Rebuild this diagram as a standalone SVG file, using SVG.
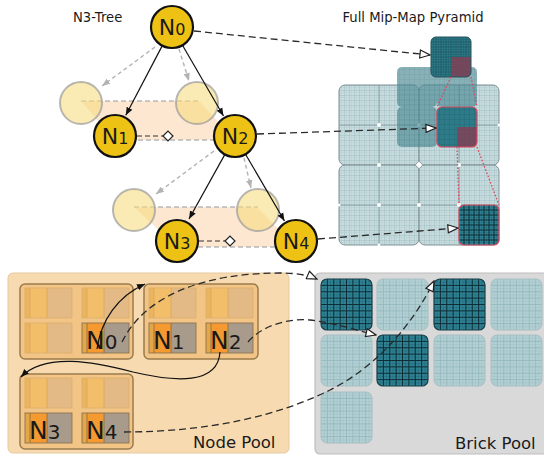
<svg xmlns="http://www.w3.org/2000/svg" width="544" height="457" viewBox="0 0 544 457">
<style>
text{font-family:"DejaVu Sans","Liberation Sans",sans-serif;fill:#1a1a1a}
.lbl{font-size:13.2px}
.pool{font-size:16.5px}
.node circle{fill:#eec214;stroke:#111;stroke-width:2.2}
.ghost circle{fill:#f6dc80;fill-opacity:.6;stroke:#9a9a9a;stroke-opacity:.7;stroke-width:2}
.band{fill:#fbd7b3;fill-opacity:.6;stroke:none}
.gedge{fill:none;stroke:#b8b8b8;stroke-width:1.3;stroke-dasharray:5 3}
.sib{fill:none;stroke:#333;stroke-width:1.2;stroke-dasharray:5 3}
.tarrow{fill:none;stroke:#111;stroke-width:1.2}
.garrow{fill:none;stroke:#b3b3b3;stroke-width:1.4;stroke-dasharray:4 3}
.link{fill:none;stroke:#2a2a2a;stroke-width:1.3;stroke-dasharray:7 4}
.red{fill:none;stroke:#e0455c;stroke-width:1.3;stroke-dasharray:1.6 1.8}
.diam{fill:#fff;stroke:#222;stroke-width:1.2}
.tile{fill:#f2c586;stroke:#9b7b4c;stroke-width:1.5}
.q{fill:url(#pl);stroke:#7f9093;stroke-width:1}
.bdark{fill:#2f8395}
.blight{fill:#b3d0d4}
</style>
<defs>
<path id="g8" vector-effect="non-scaling-stroke" d="M.125 0V1M.25 0V1M.375 0V1M.5 0V1M.625 0V1M.75 0V1M.875 0V1M0 .125H1M0 .25H1M0 .375H1M0 .5H1M0 .625H1M0 .75H1M0 .875H1"/>
<path id="g16" vector-effect="non-scaling-stroke" d="M.0625 0V1M.1875 0V1M.3125 0V1M.4375 0V1M.5625 0V1M.6875 0V1M.8125 0V1M.9375 0V1M0 .0625H1M0 .1875H1M0 .3125H1M0 .4375H1M0 .5625H1M0 .6875H1M0 .8125H1M0 .9375H1"/>
<clipPath id="uc"><rect width="1" height="1" rx=".12"/></clipPath>
<pattern id="pl" patternUnits="userSpaceOnUse" x="339" y="85" width="5" height="5"><rect width="5" height="5" fill="#c9dde0"/><path d="M0 0H5M0 0V5" stroke="#9dbbc0" stroke-width="1"/><path d="M0 2.5H5M2.5 0V5" stroke="#b5cfd3" stroke-width=".5"/></pattern>
<marker id="ab" viewBox="0 0 10 10" refX="10" refY="5" markerWidth="8" markerHeight="8" markerUnits="userSpaceOnUse" orient="auto"><path d="M0,1 L10,5 L0,9 z" fill="#111"/></marker>
<marker id="ag" viewBox="0 0 10 10" refX="10" refY="5" markerWidth="8" markerHeight="8" markerUnits="userSpaceOnUse" orient="auto"><path d="M0,1 L10,5 L0,9 z" fill="#b3b3b3"/></marker>
<marker id="ao" viewBox="0 0 12 10" refX="11" refY="5" markerWidth="12" markerHeight="10" markerUnits="userSpaceOnUse" orient="auto"><path d="M1,1 L11,5 L1,9 z" fill="#fff" stroke="#222" stroke-width="1.2"/></marker>
<g id="cellF">
<rect width="47" height="30" fill="#a99b8c"/>
<rect width="5" height="30" fill="#e2a748"/>
<rect x="5" width="17" height="30" fill="#f59a30"/>
<path d="M5 0V30M22 0V30" stroke="#8d6a3a" stroke-width=".8"/>
<rect width="47" height="30" fill="none" stroke="#8d7350" stroke-width=".9"/>
</g>
<g id="cellE">
<rect width="47" height="30" fill="#e3ba86"/>
<rect width="5" height="30" fill="#ebb55f"/>
<rect x="5" width="17" height="30" fill="#f3be6a"/>
<path d="M5 0V30M22 0V30" stroke="#d7a660" stroke-width=".8"/>
<rect width="47" height="30" fill="none" stroke="#dcae6c" stroke-width=".8"/>
</g>
<g id="brickD">
<rect width="51" height="51" rx="6" class="bdark"/>
<use href="#g16" transform="scale(51)" clip-path="url(#uc)" stroke="#236876" stroke-width=".5"/>
<use href="#g8" transform="scale(51)" clip-path="url(#uc)" stroke="#0e2d35" stroke-width="1"/>
<rect width="51" height="51" rx="6" fill="none" stroke="#1b3d46" stroke-width="1.2"/>
</g>
<g id="brickL">
<rect width="51" height="51" rx="6" class="blight"/>
<use href="#g16" transform="scale(51)" clip-path="url(#uc)" stroke="#a0c2c7" stroke-width=".5"/>
<use href="#g8" transform="scale(51)" clip-path="url(#uc)" stroke="#8db3b9" stroke-width=".7"/>
<rect width="51" height="51" rx="6" fill="none" stroke="#a7bec1" stroke-width="1"/>
</g>
</defs>

<rect width="544" height="457" fill="#fff"/>

<text class="lbl" x="73" y="22">N3-Tree</text>
<text class="lbl" x="413" y="22" text-anchor="middle">Full Mip-Map Pyramid</text>

<g id="band1">
<path class="band" d="M81,101 L199,101 L235,140 L115,140 Z"/>
<path class="gedge" d="M81,101 H200 M138,140 H214"/>
</g>
<g id="band2">
<path class="band" d="M134,207 L257,207 L296,247 L177,247 Z"/>
<path class="gedge" d="M134,207 H258 M198,247 H277"/>
</g>

<g id="ghost-1a" class="ghost"><circle cx="81" cy="103" r="21"/></g>
<g id="ghost-1b" class="ghost"><circle cx="197" cy="103" r="21"/></g>
<g id="ghost-2a" class="ghost"><circle cx="134" cy="210" r="21"/></g>
<g id="ghost-2b" class="ghost"><circle cx="258" cy="210" r="21"/></g>

<g id="pyramid-level2">
<rect class="q" x="339" y="85" width="80" height="80" rx="6"/>
<rect class="q" x="419" y="85" width="80" height="80" rx="6"/>
<rect class="q" x="339" y="165" width="80" height="80" rx="6"/>
<rect class="q" x="419" y="165" width="80" height="80" rx="6"/>
<path d="M379,85V245M459,85V245M339,125H499M339,205H499" stroke="#8aa0a3" stroke-width="1" fill="none"/>
<g fill="#fff">
<circle cx="379" cy="125" r="2"/><circle cx="419" cy="125" r="2"/><circle cx="459" cy="125" r="2"/>
<circle cx="379" cy="165" r="2"/><circle cx="419" cy="165" r="2.4"/><circle cx="459" cy="165" r="2"/>
<circle cx="379" cy="205" r="2"/><circle cx="419" cy="205" r="2"/><circle cx="459" cy="205" r="2"/>
<circle cx="339" cy="205" r="1.5"/><circle cx="379" cy="245" r="1.5"/><circle cx="499" cy="125" r="1.5"/>
</g>
</g>
<g id="pyramid-level1">
<g opacity=".7">
<g transform="translate(397,67)"><rect width="40" height="40" rx="5" fill="#558f99"/><use href="#g16" transform="scale(40)" clip-path="url(#uc)" stroke="#437c86" stroke-width=".5"/></g>
<g transform="translate(437,67)"><rect width="40" height="40" rx="5" fill="#558f99"/><use href="#g16" transform="scale(40)" clip-path="url(#uc)" stroke="#437c86" stroke-width=".5"/></g>
<g transform="translate(397,107)"><rect width="40" height="40" rx="5" fill="#558f99"/><use href="#g16" transform="scale(40)" clip-path="url(#uc)" stroke="#437c86" stroke-width=".5"/></g>
</g>
<g transform="translate(437,107)">
<rect width="40" height="40" rx="5" fill="#2d7a88"/>
<use href="#g16" transform="scale(40)" clip-path="url(#uc)" stroke="#266a77" stroke-width=".5"/>
<path d="M20,20 H40 V35 Q40,40 35,40 H20 Z" fill="#8c3b52" fill-opacity=".75"/>
<rect width="40" height="40" rx="5" fill="none" stroke="#d9475b" stroke-width="1.2"/>
</g>
</g>
<g id="pyramid-level0" transform="translate(431,37)">
<rect width="40" height="40" rx="5" fill="#2c7886"/>
<use href="#g16" transform="scale(40)" clip-path="url(#uc)" stroke="#22606c" stroke-width=".5"/>
<use href="#g8" transform="scale(40)" clip-path="url(#uc)" stroke="#1f5662" stroke-width=".7"/>
<path d="M20,20 H40 V35 Q40,40 35,40 H20 Z" fill="#8c3b52" fill-opacity=".75"/>
<rect width="40" height="40" rx="5" fill="none" stroke="#24525c" stroke-width="1"/>
</g>
<g id="pyramid-level2-sel" transform="translate(459,205)">
<rect width="40" height="40" rx="5" fill="#2f8394"/>
<use href="#g16" transform="scale(40)" clip-path="url(#uc)" stroke="#246b79" stroke-width=".5"/>
<use href="#g8" transform="scale(40)" clip-path="url(#uc)" stroke="#0e2d35" stroke-width="1"/>
<rect width="40" height="40" rx="5" fill="none" stroke="#d9475b" stroke-width="1.2"/>
</g>
<g id="refine-lines">
<path class="red" d="M451,77 L437,107 M471,77 L477,107 M457,147 L459,205 M477,147 L499,205"/>
</g>

<g id="node-pool">
<rect x="8" y="273" width="281" height="180" rx="5" fill="#f7dab0" stroke="#e6c9a0" stroke-width="1"/>
<text class="pool" x="193" y="448">Node Pool</text>
</g>
<g id="node-tile-1">
<rect class="tile" x="20" y="284" width="113" height="75" rx="5"/>
<use href="#cellE" x="25" y="288"/><use href="#cellE" x="82" y="288"/>
<use href="#cellE" x="25" y="323"/><use href="#cellF" x="82" y="323"/>
<text x="86" y="349"><tspan font-size="25">N</tspan><tspan font-size="20">0</tspan></text>
</g>
<g id="node-tile-2">
<rect class="tile" x="144" y="284" width="114" height="75" rx="5"/>
<use href="#cellE" x="149" y="288"/><use href="#cellE" x="206" y="288"/>
<use href="#cellF" x="149" y="323"/><use href="#cellF" x="206" y="323"/>
<text x="153" y="349"><tspan font-size="25">N</tspan><tspan font-size="20">1</tspan></text>
<text x="210" y="349"><tspan font-size="25">N</tspan><tspan font-size="20">2</tspan></text>
</g>
<g id="node-tile-3">
<rect class="tile" x="20" y="374" width="113" height="75" rx="5"/>
<use href="#cellE" x="25" y="378"/><use href="#cellE" x="82" y="378"/>
<use href="#cellF" x="25" y="413"/><use href="#cellF" x="82" y="413"/>
<text x="29" y="439"><tspan font-size="25">N</tspan><tspan font-size="20">3</tspan></text>
<text x="86" y="439"><tspan font-size="25">N</tspan><tspan font-size="20">4</tspan></text>
</g>

<g id="brick-pool">
<rect x="315" y="273" width="240" height="181" rx="5" fill="#d9d9d9" stroke="#bdbdbd" stroke-width="1.2"/>
<use href="#brickD" x="321" y="279"/>
<use href="#brickL" x="377" y="279"/>
<use href="#brickD" x="434" y="279"/>
<use href="#brickL" x="491" y="279"/>
<use href="#brickL" x="321" y="335"/>
<use href="#brickD" x="377" y="335"/>
<use href="#brickL" x="434" y="335"/>
<use href="#brickL" x="491" y="335"/>
<use href="#brickL" x="321" y="392"/>
<text class="pool" x="455" y="449">Brick Pool</text>
</g>

<g id="connectors">
<path class="sib" d="M137,136 H163"/>
<path class="diam" d="M163,136 L168,131 L173,136 L168,141 Z"/>
<path class="sib" d="M199,241 H225"/>
<path class="diam" d="M225,241 L230,236 L235,241 L230,246 Z"/>
<path class="garrow" marker-end="url(#ag)" d="M155,47 L102,86"/>
<path class="garrow" marker-end="url(#ag)" d="M179,49 L189,81"/>
<path class="garrow" marker-end="url(#ag)" d="M214,151 L156,194"/>
<path class="garrow" marker-end="url(#ag)" d="M244,158 L251,188"/>
<path class="tarrow" marker-end="url(#ab)" d="M162.3,45.6 L125.8,115.3"/>
<path class="tarrow" marker-end="url(#ab)" d="M182.5,45.2 L223.5,116"/>
<path class="tarrow" marker-end="url(#ab)" d="M224.9,154.4 L189,219"/>
<path class="tarrow" marker-end="url(#ab)" d="M245.5,154.2 L284.5,221"/>
<path class="link" marker-end="url(#ao)" d="M194,31 L430,55"/>
<path class="link" marker-end="url(#ao)" d="M257,134 L436,128"/>
<path class="link" marker-end="url(#ao)" d="M318,239 L458,228"/>
<path class="tarrow" marker-end="url(#ab)" d="M97,349 C101,320 118,296 145,284"/>
<path class="tarrow" marker-end="url(#ab)" d="M220,352 C218,385 175,382 133,372 C95,362 45,352 21,377"/>
<path class="link" marker-end="url(#ao)" d="M122,342 C145,295 205,273 280,273 C295,273 308,275 317,279"/>
<path class="link" marker-end="url(#ao)" d="M248,342 C262,325 290,318 310,320 C335,323 355,330 376,335"/>
<path class="link" marker-end="url(#ao)" d="M124,432 C210,432 280,415 330,390 C380,365 415,320 434,281"/>
</g>

<g id="N0" class="node"><circle cx="172" cy="27" r="21"/><text x="172" y="34.5" text-anchor="middle"><tspan font-size="22">N</tspan><tspan font-size="16">0</tspan></text></g>
<g id="N1" class="node"><circle cx="115" cy="136" r="21"/><text x="115" y="143.5" text-anchor="middle"><tspan font-size="22">N</tspan><tspan font-size="16">1</tspan></text></g>
<g id="N2" class="node"><circle cx="235" cy="136" r="21"/><text x="235" y="143.5" text-anchor="middle"><tspan font-size="22">N</tspan><tspan font-size="16">2</tspan></text></g>
<g id="N3" class="node"><circle cx="177" cy="241" r="21"/><text x="177" y="248.5" text-anchor="middle"><tspan font-size="22">N</tspan><tspan font-size="16">3</tspan></text></g>
<g id="N4" class="node"><circle cx="296" cy="241" r="21"/><text x="296" y="248.5" text-anchor="middle"><tspan font-size="22">N</tspan><tspan font-size="16">4</tspan></text></g>
</svg>
